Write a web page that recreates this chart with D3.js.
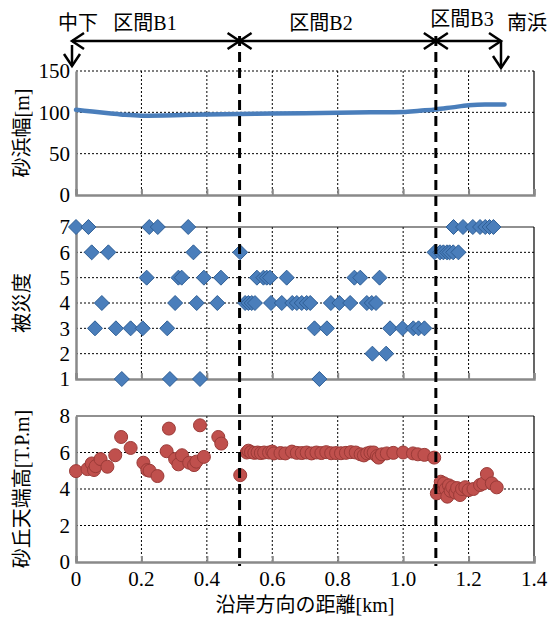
<!DOCTYPE html>
<html>
<head>
<meta charset="utf-8">
<script src="https://cdn.jsdelivr.net/npm/d3@7"></script>
<style>
  body { margin: 0; background: #fff; }
  text { font-family: "Liberation Serif", "Noto Sans CJK JP", serif; fill: #000; }
</style>
</head>
<body>
<svg id="viz" width="552" height="619"></svg>
<script>
// beach width [m] along the coast
const widthX = [0, 0.05, 0.1, 0.15, 0.2, 0.3, 0.4, 0.5, 0.6, 0.7, 0.8, 0.9, 1.0, 1.05, 1.1, 1.15, 1.2, 1.25, 1.31];
const widthY = [103, 101, 99, 97, 96, 96.5, 97.5, 98, 98.5, 99, 99.5, 100, 100.5, 102, 103.5, 106, 108.5, 109.5, 109.5];

// damage level (1-7)
const damageX = [
  0.0, 0.038, 0.224, 0.25, 0.343, 1.154, 1.183, 1.213, 1.235, 1.251, 1.264, 1.276,
  0.048, 0.099, 0.359, 0.502, 1.096, 1.113, 1.123, 1.134, 1.142, 1.153, 1.169,
  0.216, 0.313, 0.323, 0.391, 0.443, 0.553, 0.573, 0.583, 0.593, 0.644, 0.851, 0.869, 0.928,
  0.079, 0.303, 0.369, 0.432, 0.517, 0.527, 0.537, 0.547, 0.596, 0.629, 0.661, 0.675, 0.69, 0.705, 0.716, 0.779, 0.805, 0.838, 0.889, 0.904, 0.917,
  0.058, 0.122, 0.167, 0.204, 0.279, 0.729, 0.767, 0.96, 0.998, 1.031, 1.047, 1.065,
  0.906, 0.948,
  0.14, 0.287, 0.379, 0.744
];
const damageY = [
  7, 7, 7, 7, 7, 7, 7, 7, 7, 7, 7, 7,
  6, 6, 6, 6, 6, 6, 6, 6, 6, 6, 6,
  5, 5, 5, 5, 5, 5, 5, 5, 5, 5, 5, 5, 5,
  4, 4, 4, 4, 4, 4, 4, 4, 4, 4, 4, 4, 4, 4, 4, 4, 4, 4, 4, 4, 4,
  3, 3, 3, 3, 3, 3, 3, 3, 3, 3, 3, 3,
  2, 2,
  1, 1, 1, 1
];

// dune crest height [T.P.m]
const duneX = [
  0, 0.035, 0.048, 0.055, 0.06, 0.075, 0.096, 0.12, 0.138, 0.167, 0.206, 0.218, 0.225, 0.249,
  0.277, 0.284, 0.303, 0.313, 0.324, 0.346, 0.361, 0.368, 0.379, 0.391, 0.435, 0.444, 0.502,
  0.522, 0.527, 0.535, 0.545, 0.555, 0.565, 0.575, 0.59, 0.6, 0.605, 0.625, 0.64, 0.66, 0.675,
  0.69, 0.705, 0.72, 0.735, 0.75, 0.765, 0.78, 0.795, 0.81, 0.825, 0.84, 0.855, 0.87, 0.88,
  0.89, 0.9, 0.91, 0.92, 0.925, 0.935, 0.95, 0.97, 1.0, 1.03, 1.045, 1.065, 1.095,
  1.103, 1.112, 1.115, 1.125, 1.13, 1.135, 1.14, 1.145, 1.15, 1.16, 1.165, 1.174, 1.18, 1.19,
  1.2, 1.215, 1.235, 1.245, 1.256, 1.271, 1.286
];
const duneY = [
  4.98, 5.09, 5.4, 5.04, 5.25, 5.64, 5.22, 5.85, 6.85, 6.25, 5.44, 5.04, 5.0, 4.71,
  6.07, 7.31, 5.64, 5.35, 5.85, 5.44, 5.31, 5.5, 7.49, 5.76, 6.85, 6.49, 4.76,
  6.0, 6.1, 6.02, 5.98, 6.0, 5.97, 6.0, 6.0, 6.05, 5.95, 5.97, 5.95, 6.05, 5.98,
  5.97, 6.0, 5.95, 6.0, 5.97, 6.02, 5.96, 5.97, 5.96, 5.98, 6.02, 6.0, 5.9, 5.84,
  5.95, 6.0, 6.0, 5.8, 5.72, 5.9, 5.95, 5.98, 6.0, 5.95, 5.9, 5.87, 5.72,
  3.76, 4.1, 4.4, 4.31, 4.0, 3.58, 4.2, 3.9, 4.1, 3.8, 4.05, 3.67, 4.0, 4.1,
  3.94, 4.0, 4.22, 4.3, 4.82, 4.31, 4.09
];

const xTicks = [0, 0.2, 0.4, 0.6, 0.8, 1.0, 1.2, 1.4];
const xTickLabels = ["0", "0.2", "0.4", "0.6", "0.8", "1.0", "1.2", "1.4"];
const sectionBounds = [0.5, 1.1];
const sectionLabels = ["中下", "区間B1", "区間B2", "区間B3", "南浜"];

const svg = d3.select("#viz");
const x = d3.scaleLinear().domain([0, 1.4]).range([76, 534]);

const panels = [
  { top: 71, bottom: 195, domain: [0, 150], ticks: [0, 50, 100, 150], title: "砂浜幅[m]", solidTop: false },
  { top: 227, bottom: 379, domain: [1, 7], ticks: [1, 2, 3, 4, 5, 6, 7], title: "被災度", solidTop: true },
  { top: 416, bottom: 562, domain: [0, 8], ticks: [0, 2, 4, 6, 8], title: "砂丘天端高[T.P.m]", solidTop: true }
];
panels.forEach(p => { p.y = d3.scaleLinear().domain(p.domain).range([p.bottom, p.top]); });

const grid = svg.append("g");
const marks = svg.append("g");
const deco = svg.append("g");

// frames, gridlines, axes
panels.forEach(p => {
  const g = grid.append("g");
  // horizontal gridlines
  g.selectAll("line.h")
    .data(p.ticks.slice(1).filter(t => p.solidTop ? t !== p.domain[1] : true))
    .enter().append("line")
    .attr("x1", x(0)).attr("x2", x(1.4))
    .attr("y1", d => p.y(d)).attr("y2", d => p.y(d))
    .attr("stroke", "#000").attr("stroke-width", 1).attr("stroke-dasharray", "2,2");
  // vertical gridlines
  g.selectAll("line.v")
    .data(xTicks.slice(1, -1))
    .enter().append("line")
    .attr("x1", d => x(d)).attr("x2", d => x(d))
    .attr("y1", p.top).attr("y2", p.bottom)
    .attr("stroke", "#000").attr("stroke-width", 1).attr("stroke-dasharray", "2,2");
  if (p.solidTop) {
    g.append("line").attr("x1", x(0)).attr("x2", x(1.4)).attr("y1", p.top).attr("y2", p.top)
      .attr("stroke", "#222").attr("stroke-width", 1.2);
  }
  // right border
  g.append("line").attr("x1", x(1.4)).attr("x2", x(1.4)).attr("y1", p.top).attr("y2", p.bottom)
    .attr("stroke", "#000").attr("stroke-width", 1.2);

  // bottom axis (inner ticks)
  const xa = g.append("g").attr("transform", `translate(0,${p.bottom})`)
    .call(d3.axisBottom(x).tickValues(xTicks).tickSize(-6).tickFormat(""));
  xa.select(".domain").attr("stroke", "#898989").attr("stroke-width", 2.5);
  xa.selectAll(".tick line").attr("stroke", "#898989").attr("stroke-width", 2);

  // left axis
  const ya = g.append("g").attr("transform", `translate(${x(0)},0)`)
    .call(d3.axisLeft(p.y).tickValues(p.ticks).tickSize(0).tickPadding(6).tickFormat(d3.format("d")));
  ya.select(".domain").attr("stroke", "#898989").attr("stroke-width", 2.5);
  ya.selectAll(".tick text").attr("font-size", 21);

  // y title
  g.append("text")
    .attr("transform", `translate(24,${(p.top + p.bottom) / 2}) rotate(-90)`)
    .attr("text-anchor", "middle").attr("dominant-baseline", "middle")
    .attr("font-size", 20)
    .text(p.title);
});

// x tick labels under the last panel
svg.append("g").selectAll("text")
  .data(xTicks)
  .enter().append("text")
  .attr("x", d => x(d)).attr("y", 586)
  .attr("text-anchor", "middle").attr("font-size", 21)
  .text((d, i) => xTickLabels[i]);

svg.append("text")
  .attr("x", 305).attr("y", 612)
  .attr("text-anchor", "middle").attr("font-size", 20)
  .text("沿岸方向の距離[km]");

// beach width line
const pTop = panels[0];
marks.append("path")
  .datum(widthX.map((d, i) => [d, widthY[i]]))
  .attr("fill", "none").attr("stroke", "#4a7ebb").attr("stroke-width", 4.5)
  .attr("stroke-linecap", "round")
  .attr("d", d3.line().x(d => x(d[0])).y(d => pTop.y(d[1])).curve(d3.curveMonotoneX));

// damage diamonds
const pMid = panels[1];
const dia = "M0,-7.5L7.5,0L0,7.5L-7.5,0Z";
marks.append("g").selectAll("path")
  .data(damageX.map((d, i) => [d, damageY[i]]))
  .enter().append("path")
  .attr("d", dia)
  .attr("transform", d => `translate(${x(d[0])},${pMid.y(d[1])})`)
  .attr("fill", "#4a7ebb").attr("stroke", "#2f5f96").attr("stroke-width", 1);

// dune crest circles
const pBot = panels[2];
marks.append("g").selectAll("circle")
  .data(duneX.map((d, i) => [d, duneY[i]]))
  .enter().append("circle")
  .attr("cx", d => x(d[0])).attr("cy", d => pBot.y(d[1]))
  .attr("r", 6.5)
  .attr("fill", "#c0504d").attr("stroke", "#9b3b38").attr("stroke-width", 1);

// section boundaries
deco.selectAll("line.sec")
  .data(sectionBounds)
  .enter().append("line")
  .attr("x1", d => x(d)).attr("x2", d => x(d))
  .attr("y1", 36).attr("y2", 566)
  .attr("stroke", "#000").attr("stroke-width", 3).attr("stroke-dasharray", "10,6");

// arrows across the top
const arrowY = 41;
const leftEnd = 72, rightEnd = 501;
const stops = [leftEnd, x(sectionBounds[0]), x(sectionBounds[1]), rightEnd];
for (let i = 0; i < stops.length - 1; i++) {
  deco.append("line").attr("x1", stops[i]).attr("x2", stops[i + 1])
    .attr("y1", arrowY).attr("y2", arrowY).attr("stroke", "#000").attr("stroke-width", 2.5);
  deco.append("path")
    .attr("d", `M${stops[i] + 12},${arrowY - 8}L${stops[i]},${arrowY}L${stops[i] + 12},${arrowY + 8}`)
    .attr("fill", "none").attr("stroke", "#000").attr("stroke-width", 2.5);
  deco.append("path")
    .attr("d", `M${stops[i + 1] - 12},${arrowY - 8}L${stops[i + 1]},${arrowY}L${stops[i + 1] - 12},${arrowY + 8}`)
    .attr("fill", "none").attr("stroke", "#000").attr("stroke-width", 2.5);
}
[[leftEnd, 45, 66], [rightEnd, 41, 68]].forEach(a => {
  deco.append("line").attr("x1", a[0]).attr("x2", a[0]).attr("y1", a[1]).attr("y2", a[2])
    .attr("stroke", "#000").attr("stroke-width", 2.5);
  deco.append("path")
    .attr("d", `M${a[0] - 8},${a[2] - 12}L${a[0]},${a[2]}L${a[0] + 8},${a[2] - 12}`)
    .attr("fill", "none").attr("stroke", "#000").attr("stroke-width", 2.5);
});

// section labels
const labelPos = [[78, 30], [145, 30], [321, 30], [462, 26], [527, 30]];
deco.selectAll("text.sec")
  .data(sectionLabels)
  .enter().append("text")
  .attr("x", (d, i) => labelPos[i][0]).attr("y", (d, i) => labelPos[i][1])
  .attr("text-anchor", "middle").attr("font-size", 20)
  .text(d => d);
</script>
</body>
</html>
